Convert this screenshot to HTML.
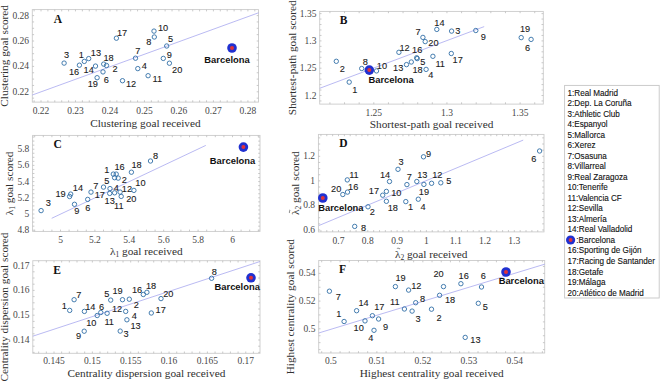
<!DOCTYPE html>
<html><head><meta charset="utf-8"><style>
html,body{margin:0;padding:0;background:#fff;width:660px;height:382px;overflow:hidden}
svg{display:block}
</style></head><body>
<svg width="660" height="382" viewBox="0 0 660 382">
<rect width="660" height="382" fill="#fff"/>
<g>
<rect x="32.3" y="9.6" width="226.20" height="92.50" fill="none" stroke="#cbcbcb" stroke-width="0.9"/>
<path d="M34.10 102.1v-1.8M34.10 9.6v1.8M41.00 102.1v-1.8M41.00 9.6v1.8M47.90 102.1v-1.8M47.90 9.6v1.8M54.79 102.1v-1.8M54.79 9.6v1.8M61.69 102.1v-1.8M61.69 9.6v1.8M68.59 102.1v-1.8M68.59 9.6v1.8M75.48 102.1v-1.8M75.48 9.6v1.8M82.38 102.1v-1.8M82.38 9.6v1.8M89.28 102.1v-1.8M89.28 9.6v1.8M96.17 102.1v-1.8M96.17 9.6v1.8M103.07 102.1v-1.8M103.07 9.6v1.8M109.97 102.1v-1.8M109.97 9.6v1.8M116.86 102.1v-1.8M116.86 9.6v1.8M123.76 102.1v-1.8M123.76 9.6v1.8M130.66 102.1v-1.8M130.66 9.6v1.8M137.55 102.1v-1.8M137.55 9.6v1.8M144.45 102.1v-1.8M144.45 9.6v1.8M151.35 102.1v-1.8M151.35 9.6v1.8M158.24 102.1v-1.8M158.24 9.6v1.8M165.14 102.1v-1.8M165.14 9.6v1.8M172.04 102.1v-1.8M172.04 9.6v1.8M178.93 102.1v-1.8M178.93 9.6v1.8M185.83 102.1v-1.8M185.83 9.6v1.8M192.73 102.1v-1.8M192.73 9.6v1.8M199.62 102.1v-1.8M199.62 9.6v1.8M206.52 102.1v-1.8M206.52 9.6v1.8M213.42 102.1v-1.8M213.42 9.6v1.8M220.31 102.1v-1.8M220.31 9.6v1.8M227.21 102.1v-1.8M227.21 9.6v1.8M234.11 102.1v-1.8M234.11 9.6v1.8M241.00 102.1v-1.8M241.00 9.6v1.8M247.90 102.1v-1.8M247.90 9.6v1.8M254.80 102.1v-1.8M254.80 9.6v1.8M32.3 98.15h1.8M258.5 98.15h-1.8M32.3 91.80h1.8M258.5 91.80h-1.8M32.3 85.45h1.8M258.5 85.45h-1.8M32.3 79.10h1.8M258.5 79.10h-1.8M32.3 72.75h1.8M258.5 72.75h-1.8M32.3 66.40h1.8M258.5 66.40h-1.8M32.3 60.05h1.8M258.5 60.05h-1.8M32.3 53.70h1.8M258.5 53.70h-1.8M32.3 47.35h1.8M258.5 47.35h-1.8M32.3 41.00h1.8M258.5 41.00h-1.8M32.3 34.65h1.8M258.5 34.65h-1.8M32.3 28.30h1.8M258.5 28.30h-1.8M32.3 21.95h1.8M258.5 21.95h-1.8M32.3 15.60h1.8M258.5 15.60h-1.8" stroke="#bdbdbd" stroke-width="0.8" fill="none"/>
<text x="41.00" y="113.8" font-family="&quot;Liberation Serif&quot;, serif" font-size="9.5" fill="#474747" text-anchor="middle">0.22</text>
<text x="75.48" y="113.8" font-family="&quot;Liberation Serif&quot;, serif" font-size="9.5" fill="#474747" text-anchor="middle">0.23</text>
<text x="109.97" y="113.8" font-family="&quot;Liberation Serif&quot;, serif" font-size="9.5" fill="#474747" text-anchor="middle">0.24</text>
<text x="144.45" y="113.8" font-family="&quot;Liberation Serif&quot;, serif" font-size="9.5" fill="#474747" text-anchor="middle">0.25</text>
<text x="178.93" y="113.8" font-family="&quot;Liberation Serif&quot;, serif" font-size="9.5" fill="#474747" text-anchor="middle">0.26</text>
<text x="213.42" y="113.8" font-family="&quot;Liberation Serif&quot;, serif" font-size="9.5" fill="#474747" text-anchor="middle">0.27</text>
<text x="247.90" y="113.8" font-family="&quot;Liberation Serif&quot;, serif" font-size="9.5" fill="#474747" text-anchor="middle">0.28</text>
<text x="29.00" y="94.80" font-family="&quot;Liberation Serif&quot;, serif" font-size="9.5" fill="#474747" text-anchor="end">0.22</text>
<text x="29.00" y="69.40" font-family="&quot;Liberation Serif&quot;, serif" font-size="9.5" fill="#474747" text-anchor="end">0.24</text>
<text x="29.00" y="44.00" font-family="&quot;Liberation Serif&quot;, serif" font-size="9.5" fill="#474747" text-anchor="end">0.26</text>
<text x="29.00" y="18.60" font-family="&quot;Liberation Serif&quot;, serif" font-size="9.5" fill="#474747" text-anchor="end">0.28</text>
<g transform="translate(145.40 127.0)"><text x="0" y="0" font-family="&quot;Liberation Serif&quot;, serif" font-size="11.3" fill="#303030" text-anchor="middle">Clustering goal received</text></g>
<g transform="translate(8.4 55.85) rotate(-90)"><text x="0" y="0" font-family="&quot;Liberation Serif&quot;, serif" font-size="11.3" fill="#303030" text-anchor="middle">Clustering goal scored</text></g>
<text x="58" y="22.70" font-family="&quot;Liberation Serif&quot;, serif" font-weight="bold" font-size="11.5" fill="#111" text-anchor="middle">A</text>
<line x1="32.3" y1="95.0" x2="258.5" y2="12.8" stroke="#9c9cec" stroke-width="0.7"/>
<circle cx="64.1" cy="63.1" r="2.2" fill="none" stroke="#306ea6" stroke-width="0.9"/>
<circle cx="79.4" cy="65.2" r="2.2" fill="none" stroke="#306ea6" stroke-width="0.9"/>
<circle cx="84.3" cy="61.4" r="2.2" fill="none" stroke="#306ea6" stroke-width="0.9"/>
<circle cx="88.7" cy="58.6" r="2.2" fill="none" stroke="#306ea6" stroke-width="0.9"/>
<circle cx="95.5" cy="66.1" r="2.2" fill="none" stroke="#306ea6" stroke-width="0.9"/>
<circle cx="103.7" cy="64.1" r="2.2" fill="none" stroke="#306ea6" stroke-width="0.9"/>
<circle cx="106.5" cy="65.5" r="2.2" fill="none" stroke="#306ea6" stroke-width="0.9"/>
<circle cx="103.0" cy="71.9" r="2.2" fill="none" stroke="#306ea6" stroke-width="0.9"/>
<circle cx="97.1" cy="77.7" r="2.2" fill="none" stroke="#306ea6" stroke-width="0.9"/>
<circle cx="116.4" cy="38.2" r="2.2" fill="none" stroke="#306ea6" stroke-width="0.9"/>
<circle cx="122.5" cy="80.7" r="2.2" fill="none" stroke="#306ea6" stroke-width="0.9"/>
<circle cx="135.5" cy="58.2" r="2.2" fill="none" stroke="#306ea6" stroke-width="0.9"/>
<circle cx="137.8" cy="68.6" r="2.2" fill="none" stroke="#306ea6" stroke-width="0.9"/>
<circle cx="154.0" cy="31.1" r="2.2" fill="none" stroke="#306ea6" stroke-width="0.9"/>
<circle cx="154.3" cy="37.0" r="2.2" fill="none" stroke="#306ea6" stroke-width="0.9"/>
<circle cx="166.7" cy="46.0" r="2.2" fill="none" stroke="#306ea6" stroke-width="0.9"/>
<circle cx="163.3" cy="58.4" r="2.2" fill="none" stroke="#306ea6" stroke-width="0.9"/>
<circle cx="169.4" cy="63.2" r="2.2" fill="none" stroke="#306ea6" stroke-width="0.9"/>
<circle cx="148.1" cy="75.7" r="2.2" fill="none" stroke="#306ea6" stroke-width="0.9"/>
<text transform="translate(66.5 58.34) scale(0.97 1)" font-family="&quot;Liberation Sans&quot;, sans-serif" font-size="9.5" fill="#1a1a1a" stroke="#1a1a1a" stroke-width="0.1" text-anchor="middle">3</text>
<text transform="translate(74.0 75.44) scale(0.97 1)" font-family="&quot;Liberation Sans&quot;, sans-serif" font-size="9.5" fill="#1a1a1a" stroke="#1a1a1a" stroke-width="0.1" text-anchor="middle">16</text>
<text transform="translate(81.2 57.63) scale(0.97 1)" font-family="&quot;Liberation Sans&quot;, sans-serif" font-size="9.5" fill="#1a1a1a" stroke="#1a1a1a" stroke-width="0.1" text-anchor="middle">1</text>
<text transform="translate(95.9 55.93) scale(0.97 1)" font-family="&quot;Liberation Sans&quot;, sans-serif" font-size="9.5" fill="#1a1a1a" stroke="#1a1a1a" stroke-width="0.1" text-anchor="middle">13</text>
<text transform="translate(88.7 73.34) scale(0.97 1)" font-family="&quot;Liberation Sans&quot;, sans-serif" font-size="9.5" fill="#1a1a1a" stroke="#1a1a1a" stroke-width="0.1" text-anchor="middle">14</text>
<text transform="translate(108.5 61.13) scale(0.97 1)" font-family="&quot;Liberation Sans&quot;, sans-serif" font-size="9.5" fill="#1a1a1a" stroke="#1a1a1a" stroke-width="0.1" text-anchor="middle">18</text>
<text transform="translate(115.0 72.44) scale(0.97 1)" font-family="&quot;Liberation Sans&quot;, sans-serif" font-size="9.5" fill="#1a1a1a" stroke="#1a1a1a" stroke-width="0.1" text-anchor="middle">2</text>
<text transform="translate(106.4 82.64) scale(0.97 1)" font-family="&quot;Liberation Sans&quot;, sans-serif" font-size="9.5" fill="#1a1a1a" stroke="#1a1a1a" stroke-width="0.1" text-anchor="middle">6</text>
<text transform="translate(92.8 86.73) scale(0.97 1)" font-family="&quot;Liberation Sans&quot;, sans-serif" font-size="9.5" fill="#1a1a1a" stroke="#1a1a1a" stroke-width="0.1" text-anchor="middle">19</text>
<text transform="translate(122.1 35.84) scale(0.97 1)" font-family="&quot;Liberation Sans&quot;, sans-serif" font-size="9.5" fill="#1a1a1a" stroke="#1a1a1a" stroke-width="0.1" text-anchor="middle">17</text>
<text transform="translate(131.0 87.23) scale(0.97 1)" font-family="&quot;Liberation Sans&quot;, sans-serif" font-size="9.5" fill="#1a1a1a" stroke="#1a1a1a" stroke-width="0.1" text-anchor="middle">12</text>
<text transform="translate(137.8 53.63) scale(0.97 1)" font-family="&quot;Liberation Sans&quot;, sans-serif" font-size="9.5" fill="#1a1a1a" stroke="#1a1a1a" stroke-width="0.1" text-anchor="middle">7</text>
<text transform="translate(144.3 69.04) scale(0.97 1)" font-family="&quot;Liberation Sans&quot;, sans-serif" font-size="9.5" fill="#1a1a1a" stroke="#1a1a1a" stroke-width="0.1" text-anchor="middle">4</text>
<text transform="translate(163.0 31.04) scale(0.97 1)" font-family="&quot;Liberation Sans&quot;, sans-serif" font-size="9.5" fill="#1a1a1a" stroke="#1a1a1a" stroke-width="0.1" text-anchor="middle">10</text>
<text transform="translate(148.7 45.13) scale(0.97 1)" font-family="&quot;Liberation Sans&quot;, sans-serif" font-size="9.5" fill="#1a1a1a" stroke="#1a1a1a" stroke-width="0.1" text-anchor="middle">8</text>
<text transform="translate(170.5 41.93) scale(0.97 1)" font-family="&quot;Liberation Sans&quot;, sans-serif" font-size="9.5" fill="#1a1a1a" stroke="#1a1a1a" stroke-width="0.1" text-anchor="middle">5</text>
<text transform="translate(169.4 58.34) scale(0.97 1)" font-family="&quot;Liberation Sans&quot;, sans-serif" font-size="9.5" fill="#1a1a1a" stroke="#1a1a1a" stroke-width="0.1" text-anchor="middle">9</text>
<text transform="translate(177.2 72.54) scale(0.97 1)" font-family="&quot;Liberation Sans&quot;, sans-serif" font-size="9.5" fill="#1a1a1a" stroke="#1a1a1a" stroke-width="0.1" text-anchor="middle">20</text>
<text transform="translate(157.3 82.23) scale(0.97 1)" font-family="&quot;Liberation Sans&quot;, sans-serif" font-size="9.5" fill="#1a1a1a" stroke="#1a1a1a" stroke-width="0.1" text-anchor="middle">11</text>
<circle cx="232.0" cy="48.0" r="4.8" fill="#2030d0"/><circle cx="232.0" cy="48.0" r="2.0" fill="#e0333a"/>
<text x="227.0" y="63.40" font-family="&quot;Liberation Sans&quot;, sans-serif" font-weight="bold" font-size="9.4" fill="#111" text-anchor="middle">Barcelona</text>
<rect x="319.7" y="11.4" width="223.60" height="92.70" fill="none" stroke="#cbcbcb" stroke-width="0.9"/>
<path d="M329.91 104.1v-1.8M329.91 11.4v1.8M344.54 104.1v-1.8M344.54 11.4v1.8M359.17 104.1v-1.8M359.17 11.4v1.8M373.80 104.1v-1.8M373.80 11.4v1.8M388.43 104.1v-1.8M388.43 11.4v1.8M403.06 104.1v-1.8M403.06 11.4v1.8M417.69 104.1v-1.8M417.69 11.4v1.8M432.32 104.1v-1.8M432.32 11.4v1.8M446.95 104.1v-1.8M446.95 11.4v1.8M461.58 104.1v-1.8M461.58 11.4v1.8M476.21 104.1v-1.8M476.21 11.4v1.8M490.84 104.1v-1.8M490.84 11.4v1.8M505.47 104.1v-1.8M505.47 11.4v1.8M520.10 104.1v-1.8M520.10 11.4v1.8M534.73 104.1v-1.8M534.73 11.4v1.8M319.7 100.96h1.8M543.3 100.96h-1.8M319.7 95.50h1.8M543.3 95.50h-1.8M319.7 90.04h1.8M543.3 90.04h-1.8M319.7 84.58h1.8M543.3 84.58h-1.8M319.7 79.12h1.8M543.3 79.12h-1.8M319.7 73.66h1.8M543.3 73.66h-1.8M319.7 68.20h1.8M543.3 68.20h-1.8M319.7 62.74h1.8M543.3 62.74h-1.8M319.7 57.28h1.8M543.3 57.28h-1.8M319.7 51.82h1.8M543.3 51.82h-1.8M319.7 46.36h1.8M543.3 46.36h-1.8M319.7 40.90h1.8M543.3 40.90h-1.8M319.7 35.44h1.8M543.3 35.44h-1.8M319.7 29.98h1.8M543.3 29.98h-1.8M319.7 24.52h1.8M543.3 24.52h-1.8M319.7 19.06h1.8M543.3 19.06h-1.8M319.7 13.60h1.8M543.3 13.60h-1.8" stroke="#bdbdbd" stroke-width="0.8" fill="none"/>
<text x="373.80" y="115.5" font-family="&quot;Liberation Serif&quot;, serif" font-size="9.5" fill="#474747" text-anchor="middle">1.25</text>
<text x="446.95" y="115.5" font-family="&quot;Liberation Serif&quot;, serif" font-size="9.5" fill="#474747" text-anchor="middle">1.3</text>
<text x="520.10" y="115.5" font-family="&quot;Liberation Serif&quot;, serif" font-size="9.5" fill="#474747" text-anchor="middle">1.35</text>
<text x="316.40" y="98.50" font-family="&quot;Liberation Serif&quot;, serif" font-size="9.5" fill="#474747" text-anchor="end">1.2</text>
<text x="316.40" y="71.20" font-family="&quot;Liberation Serif&quot;, serif" font-size="9.5" fill="#474747" text-anchor="end">1.25</text>
<text x="316.40" y="43.90" font-family="&quot;Liberation Serif&quot;, serif" font-size="9.5" fill="#474747" text-anchor="end">1.3</text>
<text x="316.40" y="16.60" font-family="&quot;Liberation Serif&quot;, serif" font-size="9.5" fill="#474747" text-anchor="end">1.35</text>
<g transform="translate(431.50 128.0)"><text x="0" y="0" font-family="&quot;Liberation Serif&quot;, serif" font-size="11.3" fill="#303030" text-anchor="middle">Shortest-path goal received</text></g>
<g transform="translate(296.0 57.75) rotate(-90)"><text x="0" y="0" font-family="&quot;Liberation Serif&quot;, serif" font-size="11.3" fill="#303030" text-anchor="middle">Shortest-path goal scored</text></g>
<text x="343.7" y="24.20" font-family="&quot;Liberation Serif&quot;, serif" font-weight="bold" font-size="11.5" fill="#111" text-anchor="middle">B</text>
<line x1="319.7" y1="88.3" x2="484.2" y2="26.6" stroke="#9c9cec" stroke-width="0.7"/>
<circle cx="336.3" cy="61.3" r="2.2" fill="none" stroke="#306ea6" stroke-width="0.9"/>
<circle cx="349.2" cy="82.1" r="2.2" fill="none" stroke="#306ea6" stroke-width="0.9"/>
<circle cx="361.7" cy="68.5" r="2.2" fill="none" stroke="#306ea6" stroke-width="0.9"/>
<circle cx="376.5" cy="70.9" r="2.2" fill="none" stroke="#306ea6" stroke-width="0.9"/>
<circle cx="398.9" cy="52.3" r="2.2" fill="none" stroke="#306ea6" stroke-width="0.9"/>
<circle cx="406.5" cy="64.6" r="2.2" fill="none" stroke="#306ea6" stroke-width="0.9"/>
<circle cx="411.3" cy="62.0" r="2.2" fill="none" stroke="#306ea6" stroke-width="0.9"/>
<circle cx="416.7" cy="57.8" r="2.2" fill="none" stroke="#306ea6" stroke-width="0.9"/>
<circle cx="417.2" cy="58.6" r="2.2" fill="none" stroke="#306ea6" stroke-width="0.9"/>
<circle cx="426.1" cy="69.4" r="2.2" fill="none" stroke="#306ea6" stroke-width="0.9"/>
<circle cx="432.9" cy="56.3" r="2.2" fill="none" stroke="#306ea6" stroke-width="0.9"/>
<circle cx="451.3" cy="53.5" r="2.2" fill="none" stroke="#306ea6" stroke-width="0.9"/>
<circle cx="422.9" cy="37.4" r="2.2" fill="none" stroke="#306ea6" stroke-width="0.9"/>
<circle cx="425.2" cy="41.6" r="2.2" fill="none" stroke="#306ea6" stroke-width="0.9"/>
<circle cx="436.8" cy="29.4" r="2.2" fill="none" stroke="#306ea6" stroke-width="0.9"/>
<circle cx="451.6" cy="31.1" r="2.2" fill="none" stroke="#306ea6" stroke-width="0.9"/>
<circle cx="475.8" cy="30.5" r="2.2" fill="none" stroke="#306ea6" stroke-width="0.9"/>
<circle cx="521.2" cy="37.6" r="2.2" fill="none" stroke="#306ea6" stroke-width="0.9"/>
<circle cx="531.1" cy="39.4" r="2.2" fill="none" stroke="#306ea6" stroke-width="0.9"/>
<text transform="translate(342.3 71.84) scale(0.97 1)" font-family="&quot;Liberation Sans&quot;, sans-serif" font-size="9.5" fill="#1a1a1a" stroke="#1a1a1a" stroke-width="0.1" text-anchor="middle">2</text>
<text transform="translate(354.8 92.73) scale(0.97 1)" font-family="&quot;Liberation Sans&quot;, sans-serif" font-size="9.5" fill="#1a1a1a" stroke="#1a1a1a" stroke-width="0.1" text-anchor="middle">1</text>
<text transform="translate(365.3 65.14) scale(0.97 1)" font-family="&quot;Liberation Sans&quot;, sans-serif" font-size="9.5" fill="#1a1a1a" stroke="#1a1a1a" stroke-width="0.1" text-anchor="middle">8</text>
<text transform="translate(381.9 68.73) scale(0.97 1)" font-family="&quot;Liberation Sans&quot;, sans-serif" font-size="9.5" fill="#1a1a1a" stroke="#1a1a1a" stroke-width="0.1" text-anchor="middle">10</text>
<text transform="translate(404.5 50.73) scale(0.97 1)" font-family="&quot;Liberation Sans&quot;, sans-serif" font-size="9.5" fill="#1a1a1a" stroke="#1a1a1a" stroke-width="0.1" text-anchor="middle">12</text>
<text transform="translate(398.2 71.14) scale(0.97 1)" font-family="&quot;Liberation Sans&quot;, sans-serif" font-size="9.5" fill="#1a1a1a" stroke="#1a1a1a" stroke-width="0.1" text-anchor="middle">13</text>
<text transform="translate(417.6 72.84) scale(0.97 1)" font-family="&quot;Liberation Sans&quot;, sans-serif" font-size="9.5" fill="#1a1a1a" stroke="#1a1a1a" stroke-width="0.1" text-anchor="middle">18</text>
<text transform="translate(417.2 52.93) scale(0.97 1)" font-family="&quot;Liberation Sans&quot;, sans-serif" font-size="9.5" fill="#1a1a1a" stroke="#1a1a1a" stroke-width="0.1" text-anchor="middle">16</text>
<text transform="translate(422.7 65.34) scale(0.97 1)" font-family="&quot;Liberation Sans&quot;, sans-serif" font-size="9.5" fill="#1a1a1a" stroke="#1a1a1a" stroke-width="0.1" text-anchor="middle">5</text>
<text transform="translate(430.9 78.44) scale(0.97 1)" font-family="&quot;Liberation Sans&quot;, sans-serif" font-size="9.5" fill="#1a1a1a" stroke="#1a1a1a" stroke-width="0.1" text-anchor="middle">4</text>
<text transform="translate(440.2 67.03) scale(0.97 1)" font-family="&quot;Liberation Sans&quot;, sans-serif" font-size="9.5" fill="#1a1a1a" stroke="#1a1a1a" stroke-width="0.1" text-anchor="middle">11</text>
<text transform="translate(457.7 63.13) scale(0.97 1)" font-family="&quot;Liberation Sans&quot;, sans-serif" font-size="9.5" fill="#1a1a1a" stroke="#1a1a1a" stroke-width="0.1" text-anchor="middle">17</text>
<text transform="translate(418.1 34.73) scale(0.97 1)" font-family="&quot;Liberation Sans&quot;, sans-serif" font-size="9.5" fill="#1a1a1a" stroke="#1a1a1a" stroke-width="0.1" text-anchor="middle">7</text>
<text transform="translate(433.4 45.63) scale(0.97 1)" font-family="&quot;Liberation Sans&quot;, sans-serif" font-size="9.5" fill="#1a1a1a" stroke="#1a1a1a" stroke-width="0.1" text-anchor="middle">20</text>
<text transform="translate(439.4 26.24) scale(0.97 1)" font-family="&quot;Liberation Sans&quot;, sans-serif" font-size="9.5" fill="#1a1a1a" stroke="#1a1a1a" stroke-width="0.1" text-anchor="middle">14</text>
<text transform="translate(457.7 33.73) scale(0.97 1)" font-family="&quot;Liberation Sans&quot;, sans-serif" font-size="9.5" fill="#1a1a1a" stroke="#1a1a1a" stroke-width="0.1" text-anchor="middle">3</text>
<text transform="translate(483.2 40.43) scale(0.97 1)" font-family="&quot;Liberation Sans&quot;, sans-serif" font-size="9.5" fill="#1a1a1a" stroke="#1a1a1a" stroke-width="0.1" text-anchor="middle">9</text>
<text transform="translate(525.1 32.13) scale(0.97 1)" font-family="&quot;Liberation Sans&quot;, sans-serif" font-size="9.5" fill="#1a1a1a" stroke="#1a1a1a" stroke-width="0.1" text-anchor="middle">19</text>
<text transform="translate(527.5 50.93) scale(0.97 1)" font-family="&quot;Liberation Sans&quot;, sans-serif" font-size="9.5" fill="#1a1a1a" stroke="#1a1a1a" stroke-width="0.1" text-anchor="middle">6</text>
<circle cx="369.3" cy="70.1" r="4.8" fill="#2030d0"/><circle cx="369.3" cy="70.1" r="2.0" fill="#e0333a"/>
<text x="391.1" y="82.70" font-family="&quot;Liberation Sans&quot;, sans-serif" font-weight="bold" font-size="9.4" fill="#111" text-anchor="middle">Barcelona</text>
<rect x="32.6" y="135.4" width="227.40" height="96.00" fill="none" stroke="#cbcbcb" stroke-width="0.9"/>
<path d="M34.70 231.4v-1.8M34.70 135.4v1.8M43.30 231.4v-1.8M43.30 135.4v1.8M51.90 231.4v-1.8M51.90 135.4v1.8M60.50 231.4v-1.8M60.50 135.4v1.8M69.10 231.4v-1.8M69.10 135.4v1.8M77.70 231.4v-1.8M77.70 135.4v1.8M86.30 231.4v-1.8M86.30 135.4v1.8M94.90 231.4v-1.8M94.90 135.4v1.8M103.50 231.4v-1.8M103.50 135.4v1.8M112.10 231.4v-1.8M112.10 135.4v1.8M120.70 231.4v-1.8M120.70 135.4v1.8M129.30 231.4v-1.8M129.30 135.4v1.8M137.90 231.4v-1.8M137.90 135.4v1.8M146.50 231.4v-1.8M146.50 135.4v1.8M155.10 231.4v-1.8M155.10 135.4v1.8M163.70 231.4v-1.8M163.70 135.4v1.8M172.30 231.4v-1.8M172.30 135.4v1.8M180.90 231.4v-1.8M180.90 135.4v1.8M189.50 231.4v-1.8M189.50 135.4v1.8M198.10 231.4v-1.8M198.10 135.4v1.8M206.70 231.4v-1.8M206.70 135.4v1.8M215.30 231.4v-1.8M215.30 135.4v1.8M223.90 231.4v-1.8M223.90 135.4v1.8M232.50 231.4v-1.8M232.50 135.4v1.8M241.10 231.4v-1.8M241.10 135.4v1.8M249.70 231.4v-1.8M249.70 135.4v1.8M258.30 231.4v-1.8M258.30 135.4v1.8M32.6 230.20h1.8M260.0 230.20h-1.8M32.6 226.15h1.8M260.0 226.15h-1.8M32.6 222.10h1.8M260.0 222.10h-1.8M32.6 218.05h1.8M260.0 218.05h-1.8M32.6 214.00h1.8M260.0 214.00h-1.8M32.6 209.95h1.8M260.0 209.95h-1.8M32.6 205.90h1.8M260.0 205.90h-1.8M32.6 201.85h1.8M260.0 201.85h-1.8M32.6 197.80h1.8M260.0 197.80h-1.8M32.6 193.75h1.8M260.0 193.75h-1.8M32.6 189.70h1.8M260.0 189.70h-1.8M32.6 185.65h1.8M260.0 185.65h-1.8M32.6 181.60h1.8M260.0 181.60h-1.8M32.6 177.55h1.8M260.0 177.55h-1.8M32.6 173.50h1.8M260.0 173.50h-1.8M32.6 169.45h1.8M260.0 169.45h-1.8M32.6 165.40h1.8M260.0 165.40h-1.8M32.6 161.35h1.8M260.0 161.35h-1.8M32.6 157.30h1.8M260.0 157.30h-1.8M32.6 153.25h1.8M260.0 153.25h-1.8M32.6 149.20h1.8M260.0 149.20h-1.8M32.6 145.15h1.8M260.0 145.15h-1.8M32.6 141.10h1.8M260.0 141.10h-1.8M32.6 137.05h1.8M260.0 137.05h-1.8" stroke="#bdbdbd" stroke-width="0.8" fill="none"/>
<text x="60.50" y="242.8" font-family="&quot;Liberation Serif&quot;, serif" font-size="9.5" fill="#474747" text-anchor="middle">5</text>
<text x="94.90" y="242.8" font-family="&quot;Liberation Serif&quot;, serif" font-size="9.5" fill="#474747" text-anchor="middle">5.2</text>
<text x="129.30" y="242.8" font-family="&quot;Liberation Serif&quot;, serif" font-size="9.5" fill="#474747" text-anchor="middle">5.4</text>
<text x="163.70" y="242.8" font-family="&quot;Liberation Serif&quot;, serif" font-size="9.5" fill="#474747" text-anchor="middle">5.6</text>
<text x="198.10" y="242.8" font-family="&quot;Liberation Serif&quot;, serif" font-size="9.5" fill="#474747" text-anchor="middle">5.8</text>
<text x="232.50" y="242.8" font-family="&quot;Liberation Serif&quot;, serif" font-size="9.5" fill="#474747" text-anchor="middle">6</text>
<text x="29.30" y="233.20" font-family="&quot;Liberation Serif&quot;, serif" font-size="9.5" fill="#474747" text-anchor="end">4.8</text>
<text x="29.30" y="217.00" font-family="&quot;Liberation Serif&quot;, serif" font-size="9.5" fill="#474747" text-anchor="end">5</text>
<text x="29.30" y="200.80" font-family="&quot;Liberation Serif&quot;, serif" font-size="9.5" fill="#474747" text-anchor="end">5.2</text>
<text x="29.30" y="184.60" font-family="&quot;Liberation Serif&quot;, serif" font-size="9.5" fill="#474747" text-anchor="end">5.4</text>
<text x="29.30" y="168.40" font-family="&quot;Liberation Serif&quot;, serif" font-size="9.5" fill="#474747" text-anchor="end">5.6</text>
<text x="29.30" y="152.20" font-family="&quot;Liberation Serif&quot;, serif" font-size="9.5" fill="#474747" text-anchor="end">5.8</text>
<g transform="translate(146.30 255.0)"><text x="0" y="0" font-family="&quot;Liberation Serif&quot;, serif" font-size="11.3" fill="#303030" text-anchor="middle">λ<tspan font-size="7.5" dy="2">1</tspan><tspan dy="-2"> goal received</tspan></text></g>
<g transform="translate(12.5 183.40) rotate(-90)"><text x="0" y="0" font-family="&quot;Liberation Serif&quot;, serif" font-size="11.3" fill="#303030" text-anchor="middle">λ<tspan font-size="7.5" dy="2">1</tspan><tspan dy="-2"> goal scored</tspan></text></g>
<text x="57.7" y="148.00" font-family="&quot;Liberation Serif&quot;, serif" font-weight="bold" font-size="11.5" fill="#111" text-anchor="middle">C</text>
<line x1="51.7" y1="218.3" x2="205.8" y2="145.4" stroke="#9c9cec" stroke-width="0.7"/>
<circle cx="41.1" cy="210.6" r="2.2" fill="none" stroke="#306ea6" stroke-width="0.9"/>
<circle cx="69.6" cy="196.5" r="2.2" fill="none" stroke="#306ea6" stroke-width="0.9"/>
<circle cx="70.7" cy="194.1" r="2.2" fill="none" stroke="#306ea6" stroke-width="0.9"/>
<circle cx="74.5" cy="204.3" r="2.2" fill="none" stroke="#306ea6" stroke-width="0.9"/>
<circle cx="87.7" cy="199.4" r="2.2" fill="none" stroke="#306ea6" stroke-width="0.9"/>
<circle cx="91.0" cy="192.1" r="2.2" fill="none" stroke="#306ea6" stroke-width="0.9"/>
<circle cx="103.5" cy="187.1" r="2.2" fill="none" stroke="#306ea6" stroke-width="0.9"/>
<circle cx="113.3" cy="174.1" r="2.2" fill="none" stroke="#306ea6" stroke-width="0.9"/>
<circle cx="116.2" cy="174.1" r="2.2" fill="none" stroke="#306ea6" stroke-width="0.9"/>
<circle cx="114.6" cy="177.7" r="2.2" fill="none" stroke="#306ea6" stroke-width="0.9"/>
<circle cx="118.2" cy="178.1" r="2.2" fill="none" stroke="#306ea6" stroke-width="0.9"/>
<circle cx="110.0" cy="188.6" r="2.2" fill="none" stroke="#306ea6" stroke-width="0.9"/>
<circle cx="109.7" cy="193.4" r="2.2" fill="none" stroke="#306ea6" stroke-width="0.9"/>
<circle cx="114.6" cy="192.8" r="2.2" fill="none" stroke="#306ea6" stroke-width="0.9"/>
<circle cx="120.1" cy="192.1" r="2.2" fill="none" stroke="#306ea6" stroke-width="0.9"/>
<circle cx="121.2" cy="196.4" r="2.2" fill="none" stroke="#306ea6" stroke-width="0.9"/>
<circle cx="133.9" cy="190.4" r="2.2" fill="none" stroke="#306ea6" stroke-width="0.9"/>
<circle cx="131.4" cy="172.2" r="2.2" fill="none" stroke="#306ea6" stroke-width="0.9"/>
<circle cx="150.5" cy="161.0" r="2.2" fill="none" stroke="#306ea6" stroke-width="0.9"/>
<text transform="translate(48.3 205.94) scale(0.97 1)" font-family="&quot;Liberation Sans&quot;, sans-serif" font-size="9.5" fill="#1a1a1a" stroke="#1a1a1a" stroke-width="0.1" text-anchor="middle">3</text>
<text transform="translate(60.5 197.03) scale(0.97 1)" font-family="&quot;Liberation Sans&quot;, sans-serif" font-size="9.5" fill="#1a1a1a" stroke="#1a1a1a" stroke-width="0.1" text-anchor="middle">19</text>
<text transform="translate(77.9 190.53) scale(0.97 1)" font-family="&quot;Liberation Sans&quot;, sans-serif" font-size="9.5" fill="#1a1a1a" stroke="#1a1a1a" stroke-width="0.1" text-anchor="middle">14</text>
<text transform="translate(76.7 213.94) scale(0.97 1)" font-family="&quot;Liberation Sans&quot;, sans-serif" font-size="9.5" fill="#1a1a1a" stroke="#1a1a1a" stroke-width="0.1" text-anchor="middle">9</text>
<text transform="translate(87.9 210.83) scale(0.97 1)" font-family="&quot;Liberation Sans&quot;, sans-serif" font-size="9.5" fill="#1a1a1a" stroke="#1a1a1a" stroke-width="0.1" text-anchor="middle">6</text>
<text transform="translate(99.8 197.83) scale(0.97 1)" font-family="&quot;Liberation Sans&quot;, sans-serif" font-size="9.5" fill="#1a1a1a" stroke="#1a1a1a" stroke-width="0.1" text-anchor="middle">17</text>
<text transform="translate(95.9 188.63) scale(0.97 1)" font-family="&quot;Liberation Sans&quot;, sans-serif" font-size="9.5" fill="#1a1a1a" stroke="#1a1a1a" stroke-width="0.1" text-anchor="middle">7</text>
<text transform="translate(106.8 172.53) scale(0.97 1)" font-family="&quot;Liberation Sans&quot;, sans-serif" font-size="9.5" fill="#1a1a1a" stroke="#1a1a1a" stroke-width="0.1" text-anchor="middle">1</text>
<text transform="translate(119.5 170.33) scale(0.97 1)" font-family="&quot;Liberation Sans&quot;, sans-serif" font-size="9.5" fill="#1a1a1a" stroke="#1a1a1a" stroke-width="0.1" text-anchor="middle">16</text>
<text transform="translate(106.8 183.83) scale(0.97 1)" font-family="&quot;Liberation Sans&quot;, sans-serif" font-size="9.5" fill="#1a1a1a" stroke="#1a1a1a" stroke-width="0.1" text-anchor="middle">5</text>
<text transform="translate(124.3 182.53) scale(0.97 1)" font-family="&quot;Liberation Sans&quot;, sans-serif" font-size="9.5" fill="#1a1a1a" stroke="#1a1a1a" stroke-width="0.1" text-anchor="middle">2</text>
<text transform="translate(116.2 190.63) scale(0.97 1)" font-family="&quot;Liberation Sans&quot;, sans-serif" font-size="9.5" fill="#1a1a1a" stroke="#1a1a1a" stroke-width="0.1" text-anchor="middle">4</text>
<text transform="translate(109.7 203.73) scale(0.97 1)" font-family="&quot;Liberation Sans&quot;, sans-serif" font-size="9.5" fill="#1a1a1a" stroke="#1a1a1a" stroke-width="0.1" text-anchor="middle">13</text>
<text transform="translate(118.8 208.73) scale(0.97 1)" font-family="&quot;Liberation Sans&quot;, sans-serif" font-size="9.5" fill="#1a1a1a" stroke="#1a1a1a" stroke-width="0.1" text-anchor="middle">11</text>
<text transform="translate(126.9 192.23) scale(0.97 1)" font-family="&quot;Liberation Sans&quot;, sans-serif" font-size="9.5" fill="#1a1a1a" stroke="#1a1a1a" stroke-width="0.1" text-anchor="middle">12</text>
<text transform="translate(131.3 201.73) scale(0.97 1)" font-family="&quot;Liberation Sans&quot;, sans-serif" font-size="9.5" fill="#1a1a1a" stroke="#1a1a1a" stroke-width="0.1" text-anchor="middle">20</text>
<text transform="translate(140.4 186.44) scale(0.97 1)" font-family="&quot;Liberation Sans&quot;, sans-serif" font-size="9.5" fill="#1a1a1a" stroke="#1a1a1a" stroke-width="0.1" text-anchor="middle">10</text>
<text transform="translate(136.5 167.73) scale(0.97 1)" font-family="&quot;Liberation Sans&quot;, sans-serif" font-size="9.5" fill="#1a1a1a" stroke="#1a1a1a" stroke-width="0.1" text-anchor="middle">18</text>
<text transform="translate(155.5 159.44) scale(0.97 1)" font-family="&quot;Liberation Sans&quot;, sans-serif" font-size="9.5" fill="#1a1a1a" stroke="#1a1a1a" stroke-width="0.1" text-anchor="middle">8</text>
<circle cx="243.4" cy="147.1" r="4.8" fill="#2030d0"/><circle cx="243.4" cy="147.1" r="2.0" fill="#e0333a"/>
<text x="232.5" y="164.40" font-family="&quot;Liberation Sans&quot;, sans-serif" font-weight="bold" font-size="9.4" fill="#111" text-anchor="middle">Barcelona</text>
<rect x="318.4" y="134.4" width="225.60" height="97.50" fill="none" stroke="#cbcbcb" stroke-width="0.9"/>
<path d="M320.92 231.9v-1.8M320.92 134.4v1.8M326.78 231.9v-1.8M326.78 134.4v1.8M332.64 231.9v-1.8M332.64 134.4v1.8M338.50 231.9v-1.8M338.50 134.4v1.8M344.36 231.9v-1.8M344.36 134.4v1.8M350.22 231.9v-1.8M350.22 134.4v1.8M356.08 231.9v-1.8M356.08 134.4v1.8M361.94 231.9v-1.8M361.94 134.4v1.8M367.80 231.9v-1.8M367.80 134.4v1.8M373.66 231.9v-1.8M373.66 134.4v1.8M379.52 231.9v-1.8M379.52 134.4v1.8M385.38 231.9v-1.8M385.38 134.4v1.8M391.24 231.9v-1.8M391.24 134.4v1.8M397.10 231.9v-1.8M397.10 134.4v1.8M402.96 231.9v-1.8M402.96 134.4v1.8M408.82 231.9v-1.8M408.82 134.4v1.8M414.68 231.9v-1.8M414.68 134.4v1.8M420.54 231.9v-1.8M420.54 134.4v1.8M426.40 231.9v-1.8M426.40 134.4v1.8M432.26 231.9v-1.8M432.26 134.4v1.8M438.12 231.9v-1.8M438.12 134.4v1.8M443.98 231.9v-1.8M443.98 134.4v1.8M449.84 231.9v-1.8M449.84 134.4v1.8M455.70 231.9v-1.8M455.70 134.4v1.8M461.56 231.9v-1.8M461.56 134.4v1.8M467.42 231.9v-1.8M467.42 134.4v1.8M473.28 231.9v-1.8M473.28 134.4v1.8M479.14 231.9v-1.8M479.14 134.4v1.8M485.00 231.9v-1.8M485.00 134.4v1.8M490.86 231.9v-1.8M490.86 134.4v1.8M496.72 231.9v-1.8M496.72 134.4v1.8M502.58 231.9v-1.8M502.58 134.4v1.8M508.44 231.9v-1.8M508.44 134.4v1.8M514.30 231.9v-1.8M514.30 134.4v1.8M520.16 231.9v-1.8M520.16 134.4v1.8M526.02 231.9v-1.8M526.02 134.4v1.8M531.88 231.9v-1.8M531.88 134.4v1.8M537.74 231.9v-1.8M537.74 134.4v1.8M318.4 230.00h1.8M544.0 230.00h-1.8M318.4 223.86h1.8M544.0 223.86h-1.8M318.4 217.72h1.8M544.0 217.72h-1.8M318.4 211.57h1.8M544.0 211.57h-1.8M318.4 205.43h1.8M544.0 205.43h-1.8M318.4 199.29h1.8M544.0 199.29h-1.8M318.4 193.15h1.8M544.0 193.15h-1.8M318.4 187.01h1.8M544.0 187.01h-1.8M318.4 180.87h1.8M544.0 180.87h-1.8M318.4 174.72h1.8M544.0 174.72h-1.8M318.4 168.58h1.8M544.0 168.58h-1.8M318.4 162.44h1.8M544.0 162.44h-1.8M318.4 156.30h1.8M544.0 156.30h-1.8M318.4 150.16h1.8M544.0 150.16h-1.8M318.4 144.02h1.8M544.0 144.02h-1.8M318.4 137.88h1.8M544.0 137.88h-1.8" stroke="#bdbdbd" stroke-width="0.8" fill="none"/>
<text x="338.50" y="243.8" font-family="&quot;Liberation Serif&quot;, serif" font-size="9.5" fill="#474747" text-anchor="middle">0.7</text>
<text x="367.80" y="243.8" font-family="&quot;Liberation Serif&quot;, serif" font-size="9.5" fill="#474747" text-anchor="middle">0.8</text>
<text x="397.10" y="243.8" font-family="&quot;Liberation Serif&quot;, serif" font-size="9.5" fill="#474747" text-anchor="middle">0.9</text>
<text x="426.40" y="243.8" font-family="&quot;Liberation Serif&quot;, serif" font-size="9.5" fill="#474747" text-anchor="middle">1</text>
<text x="455.70" y="243.8" font-family="&quot;Liberation Serif&quot;, serif" font-size="9.5" fill="#474747" text-anchor="middle">1.1</text>
<text x="485.00" y="243.8" font-family="&quot;Liberation Serif&quot;, serif" font-size="9.5" fill="#474747" text-anchor="middle">1.2</text>
<text x="514.30" y="243.8" font-family="&quot;Liberation Serif&quot;, serif" font-size="9.5" fill="#474747" text-anchor="middle">1.3</text>
<text x="315.10" y="233.00" font-family="&quot;Liberation Serif&quot;, serif" font-size="9.5" fill="#474747" text-anchor="end">0.6</text>
<text x="315.10" y="208.43" font-family="&quot;Liberation Serif&quot;, serif" font-size="9.5" fill="#474747" text-anchor="end">0.8</text>
<text x="315.10" y="183.87" font-family="&quot;Liberation Serif&quot;, serif" font-size="9.5" fill="#474747" text-anchor="end">1</text>
<text x="315.10" y="159.30" font-family="&quot;Liberation Serif&quot;, serif" font-size="9.5" fill="#474747" text-anchor="end">1.2</text>
<g transform="translate(431.20 257.6)"><text x="0" y="0" font-family="&quot;Liberation Serif&quot;, serif" font-size="11.3" fill="#303030" text-anchor="middle">λ<tspan font-size="7.5" dy="2">2</tspan><tspan dy="-2"> goal received</tspan></text><path d="M-34.09 -8.9c0.5 -0.8 1.0 -0.8 1.5 -0.3s1.0 0.5 1.5 -0.3" stroke="#222" stroke-width="0.6" fill="none"/></g>
<g transform="translate(298.8 183.15) rotate(-90)"><text x="0" y="0" font-family="&quot;Liberation Serif&quot;, serif" font-size="11.3" fill="#303030" text-anchor="middle">λ<tspan font-size="7.5" dy="2">2</tspan><tspan dy="-2"> goal scored</tspan></text><path d="M-29.75 -8.9c0.5 -0.8 1.0 -0.8 1.5 -0.3s1.0 0.5 1.5 -0.3" stroke="#222" stroke-width="0.6" fill="none"/></g>
<text x="343.4" y="147.30" font-family="&quot;Liberation Serif&quot;, serif" font-weight="bold" font-size="11.5" fill="#111" text-anchor="middle">D</text>
<line x1="319.0" y1="225.5" x2="523.2" y2="140.1" stroke="#9c9cec" stroke-width="0.7"/>
<circle cx="342.8" cy="194.5" r="2.2" fill="none" stroke="#306ea6" stroke-width="0.9"/>
<circle cx="347.5" cy="192.1" r="2.2" fill="none" stroke="#306ea6" stroke-width="0.9"/>
<circle cx="347.3" cy="179.9" r="2.2" fill="none" stroke="#306ea6" stroke-width="0.9"/>
<circle cx="368.0" cy="206.8" r="2.2" fill="none" stroke="#306ea6" stroke-width="0.9"/>
<circle cx="354.7" cy="226.4" r="2.2" fill="none" stroke="#306ea6" stroke-width="0.9"/>
<circle cx="382.7" cy="195.2" r="2.2" fill="none" stroke="#306ea6" stroke-width="0.9"/>
<circle cx="386.4" cy="191.4" r="2.2" fill="none" stroke="#306ea6" stroke-width="0.9"/>
<circle cx="386.4" cy="201.3" r="2.2" fill="none" stroke="#306ea6" stroke-width="0.9"/>
<circle cx="389.5" cy="181.5" r="2.2" fill="none" stroke="#306ea6" stroke-width="0.9"/>
<circle cx="398.0" cy="169.3" r="2.2" fill="none" stroke="#306ea6" stroke-width="0.9"/>
<circle cx="406.9" cy="184.6" r="2.2" fill="none" stroke="#306ea6" stroke-width="0.9"/>
<circle cx="405.8" cy="201.6" r="2.2" fill="none" stroke="#306ea6" stroke-width="0.9"/>
<circle cx="416.8" cy="181.5" r="2.2" fill="none" stroke="#306ea6" stroke-width="0.9"/>
<circle cx="423.9" cy="184.4" r="2.2" fill="none" stroke="#306ea6" stroke-width="0.9"/>
<circle cx="418.3" cy="199.2" r="2.2" fill="none" stroke="#306ea6" stroke-width="0.9"/>
<circle cx="423.5" cy="156.8" r="2.2" fill="none" stroke="#306ea6" stroke-width="0.9"/>
<circle cx="431.6" cy="183.3" r="2.2" fill="none" stroke="#306ea6" stroke-width="0.9"/>
<circle cx="440.8" cy="182.8" r="2.2" fill="none" stroke="#306ea6" stroke-width="0.9"/>
<circle cx="539.6" cy="151.0" r="2.2" fill="none" stroke="#306ea6" stroke-width="0.9"/>
<text transform="translate(336.2 192.23) scale(0.97 1)" font-family="&quot;Liberation Sans&quot;, sans-serif" font-size="9.5" fill="#1a1a1a" stroke="#1a1a1a" stroke-width="0.1" text-anchor="middle">20</text>
<text transform="translate(353.2 189.83) scale(0.97 1)" font-family="&quot;Liberation Sans&quot;, sans-serif" font-size="9.5" fill="#1a1a1a" stroke="#1a1a1a" stroke-width="0.1" text-anchor="middle">16</text>
<text transform="translate(353.9 178.03) scale(0.97 1)" font-family="&quot;Liberation Sans&quot;, sans-serif" font-size="9.5" fill="#1a1a1a" stroke="#1a1a1a" stroke-width="0.1" text-anchor="middle">11</text>
<text transform="translate(372.3 215.33) scale(0.97 1)" font-family="&quot;Liberation Sans&quot;, sans-serif" font-size="9.5" fill="#1a1a1a" stroke="#1a1a1a" stroke-width="0.1" text-anchor="middle">2</text>
<text transform="translate(363.5 230.53) scale(0.97 1)" font-family="&quot;Liberation Sans&quot;, sans-serif" font-size="9.5" fill="#1a1a1a" stroke="#1a1a1a" stroke-width="0.1" text-anchor="middle">8</text>
<text transform="translate(373.9 193.63) scale(0.97 1)" font-family="&quot;Liberation Sans&quot;, sans-serif" font-size="9.5" fill="#1a1a1a" stroke="#1a1a1a" stroke-width="0.1" text-anchor="middle">17</text>
<text transform="translate(396.3 196.44) scale(0.97 1)" font-family="&quot;Liberation Sans&quot;, sans-serif" font-size="9.5" fill="#1a1a1a" stroke="#1a1a1a" stroke-width="0.1" text-anchor="middle">10</text>
<text transform="translate(392.8 211.33) scale(0.97 1)" font-family="&quot;Liberation Sans&quot;, sans-serif" font-size="9.5" fill="#1a1a1a" stroke="#1a1a1a" stroke-width="0.1" text-anchor="middle">18</text>
<text transform="translate(385.0 177.63) scale(0.97 1)" font-family="&quot;Liberation Sans&quot;, sans-serif" font-size="9.5" fill="#1a1a1a" stroke="#1a1a1a" stroke-width="0.1" text-anchor="middle">14</text>
<text transform="translate(401.0 165.33) scale(0.97 1)" font-family="&quot;Liberation Sans&quot;, sans-serif" font-size="9.5" fill="#1a1a1a" stroke="#1a1a1a" stroke-width="0.1" text-anchor="middle">3</text>
<text transform="translate(409.3 180.44) scale(0.97 1)" font-family="&quot;Liberation Sans&quot;, sans-serif" font-size="9.5" fill="#1a1a1a" stroke="#1a1a1a" stroke-width="0.1" text-anchor="middle">7</text>
<text transform="translate(410.5 209.94) scale(0.97 1)" font-family="&quot;Liberation Sans&quot;, sans-serif" font-size="9.5" fill="#1a1a1a" stroke="#1a1a1a" stroke-width="0.1" text-anchor="middle">1</text>
<text transform="translate(422.3 177.63) scale(0.97 1)" font-family="&quot;Liberation Sans&quot;, sans-serif" font-size="9.5" fill="#1a1a1a" stroke="#1a1a1a" stroke-width="0.1" text-anchor="middle">13</text>
<text transform="translate(423.9 194.83) scale(0.97 1)" font-family="&quot;Liberation Sans&quot;, sans-serif" font-size="9.5" fill="#1a1a1a" stroke="#1a1a1a" stroke-width="0.1" text-anchor="middle">19</text>
<text transform="translate(423.0 209.94) scale(0.97 1)" font-family="&quot;Liberation Sans&quot;, sans-serif" font-size="9.5" fill="#1a1a1a" stroke="#1a1a1a" stroke-width="0.1" text-anchor="middle">4</text>
<text transform="translate(428.6 156.94) scale(0.97 1)" font-family="&quot;Liberation Sans&quot;, sans-serif" font-size="9.5" fill="#1a1a1a" stroke="#1a1a1a" stroke-width="0.1" text-anchor="middle">9</text>
<text transform="translate(437.3 177.83) scale(0.97 1)" font-family="&quot;Liberation Sans&quot;, sans-serif" font-size="9.5" fill="#1a1a1a" stroke="#1a1a1a" stroke-width="0.1" text-anchor="middle">12</text>
<text transform="translate(448.8 183.53) scale(0.97 1)" font-family="&quot;Liberation Sans&quot;, sans-serif" font-size="9.5" fill="#1a1a1a" stroke="#1a1a1a" stroke-width="0.1" text-anchor="middle">5</text>
<text transform="translate(533.9 161.94) scale(0.97 1)" font-family="&quot;Liberation Sans&quot;, sans-serif" font-size="9.5" fill="#1a1a1a" stroke="#1a1a1a" stroke-width="0.1" text-anchor="middle">6</text>
<circle cx="322.8" cy="198.0" r="4.8" fill="#2030d0"/><circle cx="322.8" cy="198.0" r="2.0" fill="#e0333a"/>
<text x="340.9" y="210.90" font-family="&quot;Liberation Sans&quot;, sans-serif" font-weight="bold" font-size="9.4" fill="#111" text-anchor="middle">Barcelona</text>
<rect x="32.8" y="260.7" width="227.20" height="92.60" fill="none" stroke="#cbcbcb" stroke-width="0.9"/>
<path d="M38.66 353.3v-1.8M38.66 260.7v1.8M46.33 353.3v-1.8M46.33 260.7v1.8M54.00 353.3v-1.8M54.00 260.7v1.8M61.67 353.3v-1.8M61.67 260.7v1.8M69.34 353.3v-1.8M69.34 260.7v1.8M77.01 353.3v-1.8M77.01 260.7v1.8M84.68 353.3v-1.8M84.68 260.7v1.8M92.35 353.3v-1.8M92.35 260.7v1.8M100.02 353.3v-1.8M100.02 260.7v1.8M107.69 353.3v-1.8M107.69 260.7v1.8M115.36 353.3v-1.8M115.36 260.7v1.8M123.03 353.3v-1.8M123.03 260.7v1.8M130.70 353.3v-1.8M130.70 260.7v1.8M138.37 353.3v-1.8M138.37 260.7v1.8M146.04 353.3v-1.8M146.04 260.7v1.8M153.71 353.3v-1.8M153.71 260.7v1.8M161.38 353.3v-1.8M161.38 260.7v1.8M169.05 353.3v-1.8M169.05 260.7v1.8M176.72 353.3v-1.8M176.72 260.7v1.8M184.39 353.3v-1.8M184.39 260.7v1.8M192.06 353.3v-1.8M192.06 260.7v1.8M199.73 353.3v-1.8M199.73 260.7v1.8M207.40 353.3v-1.8M207.40 260.7v1.8M215.07 353.3v-1.8M215.07 260.7v1.8M222.74 353.3v-1.8M222.74 260.7v1.8M230.41 353.3v-1.8M230.41 260.7v1.8M238.08 353.3v-1.8M238.08 260.7v1.8M245.75 353.3v-1.8M245.75 260.7v1.8M253.42 353.3v-1.8M253.42 260.7v1.8M32.8 352.40h1.8M260.0 352.40h-1.8M32.8 346.20h1.8M260.0 346.20h-1.8M32.8 340.00h1.8M260.0 340.00h-1.8M32.8 333.80h1.8M260.0 333.80h-1.8M32.8 327.60h1.8M260.0 327.60h-1.8M32.8 321.40h1.8M260.0 321.40h-1.8M32.8 315.20h1.8M260.0 315.20h-1.8M32.8 309.00h1.8M260.0 309.00h-1.8M32.8 302.80h1.8M260.0 302.80h-1.8M32.8 296.60h1.8M260.0 296.60h-1.8M32.8 290.40h1.8M260.0 290.40h-1.8M32.8 284.20h1.8M260.0 284.20h-1.8M32.8 278.00h1.8M260.0 278.00h-1.8M32.8 271.80h1.8M260.0 271.80h-1.8M32.8 265.60h1.8M260.0 265.60h-1.8" stroke="#bdbdbd" stroke-width="0.8" fill="none"/>
<text x="54.00" y="364.3" font-family="&quot;Liberation Serif&quot;, serif" font-size="9.5" fill="#474747" text-anchor="middle">0.145</text>
<text x="92.35" y="364.3" font-family="&quot;Liberation Serif&quot;, serif" font-size="9.5" fill="#474747" text-anchor="middle">0.15</text>
<text x="130.70" y="364.3" font-family="&quot;Liberation Serif&quot;, serif" font-size="9.5" fill="#474747" text-anchor="middle">0.155</text>
<text x="169.05" y="364.3" font-family="&quot;Liberation Serif&quot;, serif" font-size="9.5" fill="#474747" text-anchor="middle">0.16</text>
<text x="207.40" y="364.3" font-family="&quot;Liberation Serif&quot;, serif" font-size="9.5" fill="#474747" text-anchor="middle">0.165</text>
<text x="245.75" y="364.3" font-family="&quot;Liberation Serif&quot;, serif" font-size="9.5" fill="#474747" text-anchor="middle">0.17</text>
<text x="29.50" y="343.00" font-family="&quot;Liberation Serif&quot;, serif" font-size="9.5" fill="#474747" text-anchor="end">0.14</text>
<text x="29.50" y="318.20" font-family="&quot;Liberation Serif&quot;, serif" font-size="9.5" fill="#474747" text-anchor="end">0.15</text>
<text x="29.50" y="293.40" font-family="&quot;Liberation Serif&quot;, serif" font-size="9.5" fill="#474747" text-anchor="end">0.16</text>
<text x="29.50" y="268.60" font-family="&quot;Liberation Serif&quot;, serif" font-size="9.5" fill="#474747" text-anchor="end">0.17</text>
<g transform="translate(146.40 376.9)"><text x="0" y="0" font-family="&quot;Liberation Serif&quot;, serif" font-size="11.3" fill="#303030" text-anchor="middle">Centrality dispersion goal received</text></g>
<g transform="translate(8.4 307.00) rotate(-90)"><text x="0" y="0" font-family="&quot;Liberation Serif&quot;, serif" font-size="11.3" fill="#303030" text-anchor="middle">Centrality dispersion goal scored</text></g>
<text x="57.2" y="273.60" font-family="&quot;Liberation Serif&quot;, serif" font-weight="bold" font-size="11.5" fill="#111" text-anchor="middle">E</text>
<line x1="32.8" y1="336.2" x2="260.0" y2="261.5" stroke="#9c9cec" stroke-width="0.7"/>
<circle cx="69.7" cy="310.4" r="2.2" fill="none" stroke="#306ea6" stroke-width="0.9"/>
<circle cx="74.1" cy="299.7" r="2.2" fill="none" stroke="#306ea6" stroke-width="0.9"/>
<circle cx="84.4" cy="311.4" r="2.2" fill="none" stroke="#306ea6" stroke-width="0.9"/>
<circle cx="97.2" cy="315.5" r="2.2" fill="none" stroke="#306ea6" stroke-width="0.9"/>
<circle cx="100.8" cy="312.5" r="2.2" fill="none" stroke="#306ea6" stroke-width="0.9"/>
<circle cx="107.1" cy="313.3" r="2.2" fill="none" stroke="#306ea6" stroke-width="0.9"/>
<circle cx="84.2" cy="331.2" r="2.2" fill="none" stroke="#306ea6" stroke-width="0.9"/>
<circle cx="110.7" cy="300.1" r="2.2" fill="none" stroke="#306ea6" stroke-width="0.9"/>
<circle cx="122.5" cy="299.7" r="2.2" fill="none" stroke="#306ea6" stroke-width="0.9"/>
<circle cx="129.3" cy="299.2" r="2.2" fill="none" stroke="#306ea6" stroke-width="0.9"/>
<circle cx="125.7" cy="311.4" r="2.2" fill="none" stroke="#306ea6" stroke-width="0.9"/>
<circle cx="126.9" cy="319.8" r="2.2" fill="none" stroke="#306ea6" stroke-width="0.9"/>
<circle cx="120.2" cy="331.1" r="2.2" fill="none" stroke="#306ea6" stroke-width="0.9"/>
<circle cx="143.3" cy="294.5" r="2.2" fill="none" stroke="#306ea6" stroke-width="0.9"/>
<circle cx="146.9" cy="292.3" r="2.2" fill="none" stroke="#306ea6" stroke-width="0.9"/>
<circle cx="161.0" cy="298.6" r="2.2" fill="none" stroke="#306ea6" stroke-width="0.9"/>
<circle cx="151.3" cy="313.0" r="2.2" fill="none" stroke="#306ea6" stroke-width="0.9"/>
<circle cx="211.6" cy="278.3" r="2.2" fill="none" stroke="#306ea6" stroke-width="0.9"/>
<text transform="translate(64.4 309.24) scale(0.97 1)" font-family="&quot;Liberation Sans&quot;, sans-serif" font-size="9.5" fill="#1a1a1a" stroke="#1a1a1a" stroke-width="0.1" text-anchor="middle">1</text>
<text transform="translate(78.9 298.44) scale(0.97 1)" font-family="&quot;Liberation Sans&quot;, sans-serif" font-size="9.5" fill="#1a1a1a" stroke="#1a1a1a" stroke-width="0.1" text-anchor="middle">7</text>
<text transform="translate(90.3 309.83) scale(0.97 1)" font-family="&quot;Liberation Sans&quot;, sans-serif" font-size="9.5" fill="#1a1a1a" stroke="#1a1a1a" stroke-width="0.1" text-anchor="middle">14</text>
<text transform="translate(91.3 325.53) scale(0.97 1)" font-family="&quot;Liberation Sans&quot;, sans-serif" font-size="9.5" fill="#1a1a1a" stroke="#1a1a1a" stroke-width="0.1" text-anchor="middle">10</text>
<text transform="translate(101.6 309.83) scale(0.97 1)" font-family="&quot;Liberation Sans&quot;, sans-serif" font-size="9.5" fill="#1a1a1a" stroke="#1a1a1a" stroke-width="0.1" text-anchor="middle">6</text>
<text transform="translate(109.2 325.24) scale(0.97 1)" font-family="&quot;Liberation Sans&quot;, sans-serif" font-size="9.5" fill="#1a1a1a" stroke="#1a1a1a" stroke-width="0.1" text-anchor="middle">11</text>
<text transform="translate(78.6 339.44) scale(0.97 1)" font-family="&quot;Liberation Sans&quot;, sans-serif" font-size="9.5" fill="#1a1a1a" stroke="#1a1a1a" stroke-width="0.1" text-anchor="middle">9</text>
<text transform="translate(106.8 297.33) scale(0.97 1)" font-family="&quot;Liberation Sans&quot;, sans-serif" font-size="9.5" fill="#1a1a1a" stroke="#1a1a1a" stroke-width="0.1" text-anchor="middle">5</text>
<text transform="translate(117.5 294.44) scale(0.97 1)" font-family="&quot;Liberation Sans&quot;, sans-serif" font-size="9.5" fill="#1a1a1a" stroke="#1a1a1a" stroke-width="0.1" text-anchor="middle">19</text>
<text transform="translate(136.2 307.94) scale(0.97 1)" font-family="&quot;Liberation Sans&quot;, sans-serif" font-size="9.5" fill="#1a1a1a" stroke="#1a1a1a" stroke-width="0.1" text-anchor="middle">2</text>
<text transform="translate(117.0 311.94) scale(0.97 1)" font-family="&quot;Liberation Sans&quot;, sans-serif" font-size="9.5" fill="#1a1a1a" stroke="#1a1a1a" stroke-width="0.1" text-anchor="middle">12</text>
<text transform="translate(134.3 319.33) scale(0.97 1)" font-family="&quot;Liberation Sans&quot;, sans-serif" font-size="9.5" fill="#1a1a1a" stroke="#1a1a1a" stroke-width="0.1" text-anchor="middle">4</text>
<text transform="translate(126.1 337.33) scale(0.97 1)" font-family="&quot;Liberation Sans&quot;, sans-serif" font-size="9.5" fill="#1a1a1a" stroke="#1a1a1a" stroke-width="0.1" text-anchor="middle">3</text>
<text transform="translate(137.1 293.33) scale(0.97 1)" font-family="&quot;Liberation Sans&quot;, sans-serif" font-size="9.5" fill="#1a1a1a" stroke="#1a1a1a" stroke-width="0.1" text-anchor="middle">16</text>
<text transform="translate(151.1 289.13) scale(0.97 1)" font-family="&quot;Liberation Sans&quot;, sans-serif" font-size="9.5" fill="#1a1a1a" stroke="#1a1a1a" stroke-width="0.1" text-anchor="middle">18</text>
<text transform="translate(168.3 297.03) scale(0.97 1)" font-family="&quot;Liberation Sans&quot;, sans-serif" font-size="9.5" fill="#1a1a1a" stroke="#1a1a1a" stroke-width="0.1" text-anchor="middle">20</text>
<text transform="translate(160.7 313.03) scale(0.97 1)" font-family="&quot;Liberation Sans&quot;, sans-serif" font-size="9.5" fill="#1a1a1a" stroke="#1a1a1a" stroke-width="0.1" text-anchor="middle">17</text>
<text transform="translate(214.4 274.83) scale(0.97 1)" font-family="&quot;Liberation Sans&quot;, sans-serif" font-size="9.5" fill="#1a1a1a" stroke="#1a1a1a" stroke-width="0.1" text-anchor="middle">8</text>
<text transform="translate(135.6 328.74) scale(0.97 1)" font-family="&quot;Liberation Sans&quot;, sans-serif" font-size="9.5" fill="#1a1a1a" stroke="#1a1a1a" stroke-width="0.1" text-anchor="middle">13</text>
<circle cx="251.0" cy="277.8" r="4.8" fill="#2030d0"/><circle cx="251.0" cy="277.8" r="2.0" fill="#e0333a"/>
<text x="237.2" y="289.80" font-family="&quot;Liberation Sans&quot;, sans-serif" font-weight="bold" font-size="9.4" fill="#111" text-anchor="middle">Barcelona</text>
<rect x="318.7" y="260.5" width="226.00" height="92.50" fill="none" stroke="#cbcbcb" stroke-width="0.9"/>
<path d="M321.70 353.0v-1.8M321.70 260.5v1.8M330.90 353.0v-1.8M330.90 260.5v1.8M340.09 353.0v-1.8M340.09 260.5v1.8M349.29 353.0v-1.8M349.29 260.5v1.8M358.48 353.0v-1.8M358.48 260.5v1.8M367.68 353.0v-1.8M367.68 260.5v1.8M376.88 353.0v-1.8M376.88 260.5v1.8M386.07 353.0v-1.8M386.07 260.5v1.8M395.26 353.0v-1.8M395.26 260.5v1.8M404.46 353.0v-1.8M404.46 260.5v1.8M413.65 353.0v-1.8M413.65 260.5v1.8M422.85 353.0v-1.8M422.85 260.5v1.8M432.04 353.0v-1.8M432.04 260.5v1.8M441.24 353.0v-1.8M441.24 260.5v1.8M450.43 353.0v-1.8M450.43 260.5v1.8M459.63 353.0v-1.8M459.63 260.5v1.8M468.82 353.0v-1.8M468.82 260.5v1.8M478.02 353.0v-1.8M478.02 260.5v1.8M487.21 353.0v-1.8M487.21 260.5v1.8M496.41 353.0v-1.8M496.41 260.5v1.8M505.60 353.0v-1.8M505.60 260.5v1.8M514.80 353.0v-1.8M514.80 260.5v1.8M523.99 353.0v-1.8M523.99 260.5v1.8M533.19 353.0v-1.8M533.19 260.5v1.8M542.38 353.0v-1.8M542.38 260.5v1.8M318.7 349.58h1.8M544.7 349.58h-1.8M318.7 342.65h1.8M544.7 342.65h-1.8M318.7 335.73h1.8M544.7 335.73h-1.8M318.7 328.80h1.8M544.7 328.80h-1.8M318.7 321.88h1.8M544.7 321.88h-1.8M318.7 314.95h1.8M544.7 314.95h-1.8M318.7 308.02h1.8M544.7 308.02h-1.8M318.7 301.10h1.8M544.7 301.10h-1.8M318.7 294.18h1.8M544.7 294.18h-1.8M318.7 287.25h1.8M544.7 287.25h-1.8M318.7 280.32h1.8M544.7 280.32h-1.8M318.7 273.40h1.8M544.7 273.40h-1.8M318.7 266.47h1.8M544.7 266.47h-1.8" stroke="#bdbdbd" stroke-width="0.8" fill="none"/>
<text x="330.90" y="364.0" font-family="&quot;Liberation Serif&quot;, serif" font-size="9.5" fill="#474747" text-anchor="middle">0.5</text>
<text x="376.88" y="364.0" font-family="&quot;Liberation Serif&quot;, serif" font-size="9.5" fill="#474747" text-anchor="middle">0.51</text>
<text x="422.85" y="364.0" font-family="&quot;Liberation Serif&quot;, serif" font-size="9.5" fill="#474747" text-anchor="middle">0.52</text>
<text x="468.82" y="364.0" font-family="&quot;Liberation Serif&quot;, serif" font-size="9.5" fill="#474747" text-anchor="middle">0.53</text>
<text x="514.80" y="364.0" font-family="&quot;Liberation Serif&quot;, serif" font-size="9.5" fill="#474747" text-anchor="middle">0.54</text>
<text x="315.40" y="331.80" font-family="&quot;Liberation Serif&quot;, serif" font-size="9.5" fill="#474747" text-anchor="end">0.5</text>
<text x="315.40" y="304.10" font-family="&quot;Liberation Serif&quot;, serif" font-size="9.5" fill="#474747" text-anchor="end">0.52</text>
<text x="315.40" y="276.40" font-family="&quot;Liberation Serif&quot;, serif" font-size="9.5" fill="#474747" text-anchor="end">0.54</text>
<g transform="translate(431.70 377.1)"><text x="0" y="0" font-family="&quot;Liberation Serif&quot;, serif" font-size="11.3" fill="#303030" text-anchor="middle">Highest centrality goal received</text></g>
<g transform="translate(293.9 306.75) rotate(-90)"><text x="0" y="0" font-family="&quot;Liberation Serif&quot;, serif" font-size="11.3" fill="#303030" text-anchor="middle">Highest centrality goal scored</text></g>
<text x="342.4" y="273.20" font-family="&quot;Liberation Serif&quot;, serif" font-weight="bold" font-size="11.5" fill="#111" text-anchor="middle">F</text>
<line x1="318.7" y1="333.0" x2="544.7" y2="264.2" stroke="#9c9cec" stroke-width="0.7"/>
<circle cx="329.4" cy="291.2" r="2.2" fill="none" stroke="#306ea6" stroke-width="0.9"/>
<circle cx="344.1" cy="321.5" r="2.2" fill="none" stroke="#306ea6" stroke-width="0.9"/>
<circle cx="356.6" cy="310.7" r="2.2" fill="none" stroke="#306ea6" stroke-width="0.9"/>
<circle cx="365.0" cy="320.9" r="2.2" fill="none" stroke="#306ea6" stroke-width="0.9"/>
<circle cx="372.4" cy="315.7" r="2.2" fill="none" stroke="#306ea6" stroke-width="0.9"/>
<circle cx="378.6" cy="319.0" r="2.2" fill="none" stroke="#306ea6" stroke-width="0.9"/>
<circle cx="374.0" cy="330.3" r="2.2" fill="none" stroke="#306ea6" stroke-width="0.9"/>
<circle cx="395.4" cy="286.6" r="2.2" fill="none" stroke="#306ea6" stroke-width="0.9"/>
<circle cx="408.6" cy="290.1" r="2.2" fill="none" stroke="#306ea6" stroke-width="0.9"/>
<circle cx="404.4" cy="309.0" r="2.2" fill="none" stroke="#306ea6" stroke-width="0.9"/>
<circle cx="415.7" cy="302.7" r="2.2" fill="none" stroke="#306ea6" stroke-width="0.9"/>
<circle cx="412.1" cy="311.1" r="2.2" fill="none" stroke="#306ea6" stroke-width="0.9"/>
<circle cx="431.5" cy="309.2" r="2.2" fill="none" stroke="#306ea6" stroke-width="0.9"/>
<circle cx="439.6" cy="295.3" r="2.2" fill="none" stroke="#306ea6" stroke-width="0.9"/>
<circle cx="443.5" cy="286.6" r="2.2" fill="none" stroke="#306ea6" stroke-width="0.9"/>
<circle cx="460.9" cy="283.7" r="2.2" fill="none" stroke="#306ea6" stroke-width="0.9"/>
<circle cx="481.5" cy="287.0" r="2.2" fill="none" stroke="#306ea6" stroke-width="0.9"/>
<circle cx="478.3" cy="303.3" r="2.2" fill="none" stroke="#306ea6" stroke-width="0.9"/>
<circle cx="465.2" cy="337.4" r="2.2" fill="none" stroke="#306ea6" stroke-width="0.9"/>
<text transform="translate(338.4 299.94) scale(0.97 1)" font-family="&quot;Liberation Sans&quot;, sans-serif" font-size="9.5" fill="#1a1a1a" stroke="#1a1a1a" stroke-width="0.1" text-anchor="middle">7</text>
<text transform="translate(338.8 316.74) scale(0.97 1)" font-family="&quot;Liberation Sans&quot;, sans-serif" font-size="9.5" fill="#1a1a1a" stroke="#1a1a1a" stroke-width="0.1" text-anchor="middle">1</text>
<text transform="translate(363.6 306.44) scale(0.97 1)" font-family="&quot;Liberation Sans&quot;, sans-serif" font-size="9.5" fill="#1a1a1a" stroke="#1a1a1a" stroke-width="0.1" text-anchor="middle">14</text>
<text transform="translate(358.7 330.94) scale(0.97 1)" font-family="&quot;Liberation Sans&quot;, sans-serif" font-size="9.5" fill="#1a1a1a" stroke="#1a1a1a" stroke-width="0.1" text-anchor="middle">10</text>
<text transform="translate(379.3 309.63) scale(0.97 1)" font-family="&quot;Liberation Sans&quot;, sans-serif" font-size="9.5" fill="#1a1a1a" stroke="#1a1a1a" stroke-width="0.1" text-anchor="middle">17</text>
<text transform="translate(385.5 329.94) scale(0.97 1)" font-family="&quot;Liberation Sans&quot;, sans-serif" font-size="9.5" fill="#1a1a1a" stroke="#1a1a1a" stroke-width="0.1" text-anchor="middle">9</text>
<text transform="translate(370.9 341.03) scale(0.97 1)" font-family="&quot;Liberation Sans&quot;, sans-serif" font-size="9.5" fill="#1a1a1a" stroke="#1a1a1a" stroke-width="0.1" text-anchor="middle">4</text>
<text transform="translate(400.6 281.13) scale(0.97 1)" font-family="&quot;Liberation Sans&quot;, sans-serif" font-size="9.5" fill="#1a1a1a" stroke="#1a1a1a" stroke-width="0.1" text-anchor="middle">19</text>
<text transform="translate(416.3 288.63) scale(0.97 1)" font-family="&quot;Liberation Sans&quot;, sans-serif" font-size="9.5" fill="#1a1a1a" stroke="#1a1a1a" stroke-width="0.1" text-anchor="middle">12</text>
<text transform="translate(394.8 305.24) scale(0.97 1)" font-family="&quot;Liberation Sans&quot;, sans-serif" font-size="9.5" fill="#1a1a1a" stroke="#1a1a1a" stroke-width="0.1" text-anchor="middle">11</text>
<text transform="translate(422.6 302.03) scale(0.97 1)" font-family="&quot;Liberation Sans&quot;, sans-serif" font-size="9.5" fill="#1a1a1a" stroke="#1a1a1a" stroke-width="0.1" text-anchor="middle">8</text>
<text transform="translate(418.0 321.53) scale(0.97 1)" font-family="&quot;Liberation Sans&quot;, sans-serif" font-size="9.5" fill="#1a1a1a" stroke="#1a1a1a" stroke-width="0.1" text-anchor="middle">3</text>
<text transform="translate(439.1 320.53) scale(0.97 1)" font-family="&quot;Liberation Sans&quot;, sans-serif" font-size="9.5" fill="#1a1a1a" stroke="#1a1a1a" stroke-width="0.1" text-anchor="middle">2</text>
<text transform="translate(450.0 303.13) scale(0.97 1)" font-family="&quot;Liberation Sans&quot;, sans-serif" font-size="9.5" fill="#1a1a1a" stroke="#1a1a1a" stroke-width="0.1" text-anchor="middle">18</text>
<text transform="translate(438.5 277.13) scale(0.97 1)" font-family="&quot;Liberation Sans&quot;, sans-serif" font-size="9.5" fill="#1a1a1a" stroke="#1a1a1a" stroke-width="0.1" text-anchor="middle">20</text>
<text transform="translate(463.7 278.63) scale(0.97 1)" font-family="&quot;Liberation Sans&quot;, sans-serif" font-size="9.5" fill="#1a1a1a" stroke="#1a1a1a" stroke-width="0.1" text-anchor="middle">16</text>
<text transform="translate(483.3 279.24) scale(0.97 1)" font-family="&quot;Liberation Sans&quot;, sans-serif" font-size="9.5" fill="#1a1a1a" stroke="#1a1a1a" stroke-width="0.1" text-anchor="middle">6</text>
<text transform="translate(485.2 309.74) scale(0.97 1)" font-family="&quot;Liberation Sans&quot;, sans-serif" font-size="9.5" fill="#1a1a1a" stroke="#1a1a1a" stroke-width="0.1" text-anchor="middle">5</text>
<text transform="translate(475.4 342.74) scale(0.97 1)" font-family="&quot;Liberation Sans&quot;, sans-serif" font-size="9.5" fill="#1a1a1a" stroke="#1a1a1a" stroke-width="0.1" text-anchor="middle">13</text>
<circle cx="506.0" cy="272.0" r="4.8" fill="#2030d0"/><circle cx="506.0" cy="272.0" r="2.0" fill="#e0333a"/>
<text x="521.3" y="283.90" font-family="&quot;Liberation Sans&quot;, sans-serif" font-weight="bold" font-size="9.4" fill="#111" text-anchor="middle">Barcelona</text>
<rect x="564.6" y="85.4" width="94.6" height="212.6" fill="#fff" stroke="#c6c6c6" stroke-width="0.9"/>
<text transform="translate(567.5 95.50) scale(0.945 1)" font-family="&quot;Liberation Sans&quot;, sans-serif" font-size="8.6" fill="#111" stroke="#111" stroke-width="0.12">1:Real Madrid</text>
<text transform="translate(567.5 106.03) scale(0.945 1)" font-family="&quot;Liberation Sans&quot;, sans-serif" font-size="8.6" fill="#111" stroke="#111" stroke-width="0.12">2:Dep. La Coruña</text>
<text transform="translate(567.5 116.56) scale(0.945 1)" font-family="&quot;Liberation Sans&quot;, sans-serif" font-size="8.6" fill="#111" stroke="#111" stroke-width="0.12">3:Athletic Club</text>
<text transform="translate(567.5 127.09) scale(0.945 1)" font-family="&quot;Liberation Sans&quot;, sans-serif" font-size="8.6" fill="#111" stroke="#111" stroke-width="0.12">4:Espanyol</text>
<text transform="translate(567.5 137.62) scale(0.945 1)" font-family="&quot;Liberation Sans&quot;, sans-serif" font-size="8.6" fill="#111" stroke="#111" stroke-width="0.12">5:Mallorca</text>
<text transform="translate(567.5 148.15) scale(0.945 1)" font-family="&quot;Liberation Sans&quot;, sans-serif" font-size="8.6" fill="#111" stroke="#111" stroke-width="0.12">6:Xerez</text>
<text transform="translate(567.5 158.68) scale(0.945 1)" font-family="&quot;Liberation Sans&quot;, sans-serif" font-size="8.6" fill="#111" stroke="#111" stroke-width="0.12">7:Osasuna</text>
<text transform="translate(567.5 169.21) scale(0.945 1)" font-family="&quot;Liberation Sans&quot;, sans-serif" font-size="8.6" fill="#111" stroke="#111" stroke-width="0.12">8:Villarreal</text>
<text transform="translate(567.5 179.74) scale(0.945 1)" font-family="&quot;Liberation Sans&quot;, sans-serif" font-size="8.6" fill="#111" stroke="#111" stroke-width="0.12">9:Real Zaragoza</text>
<text transform="translate(567.5 190.27) scale(0.945 1)" font-family="&quot;Liberation Sans&quot;, sans-serif" font-size="8.6" fill="#111" stroke="#111" stroke-width="0.12">10:Tenerife</text>
<text transform="translate(567.5 200.80) scale(0.945 1)" font-family="&quot;Liberation Sans&quot;, sans-serif" font-size="8.6" fill="#111" stroke="#111" stroke-width="0.12">11:Valencia CF</text>
<text transform="translate(567.5 211.33) scale(0.945 1)" font-family="&quot;Liberation Sans&quot;, sans-serif" font-size="8.6" fill="#111" stroke="#111" stroke-width="0.12">12:Sevilla</text>
<text transform="translate(567.5 221.86) scale(0.945 1)" font-family="&quot;Liberation Sans&quot;, sans-serif" font-size="8.6" fill="#111" stroke="#111" stroke-width="0.12">13:Almería</text>
<text transform="translate(567.5 232.39) scale(0.945 1)" font-family="&quot;Liberation Sans&quot;, sans-serif" font-size="8.6" fill="#111" stroke="#111" stroke-width="0.12">14:Real Valladolid</text>
<circle cx="570.6" cy="240.02" r="4.6" fill="#2030d0"/><circle cx="570.6" cy="240.02" r="1.9" fill="#e0333a"/>
<text transform="translate(576.3 242.92) scale(0.945 1)" font-family="&quot;Liberation Sans&quot;, sans-serif" font-size="8.6" fill="#111" stroke="#111" stroke-width="0.12">:Barcelona</text>
<text transform="translate(567.5 253.45) scale(0.945 1)" font-family="&quot;Liberation Sans&quot;, sans-serif" font-size="8.6" fill="#111" stroke="#111" stroke-width="0.12">16:Sporting de Gijón</text>
<text transform="translate(567.5 263.98) scale(0.945 1)" font-family="&quot;Liberation Sans&quot;, sans-serif" font-size="8.6" fill="#111" stroke="#111" stroke-width="0.12">17:Racing de Santander</text>
<text transform="translate(567.5 274.51) scale(0.945 1)" font-family="&quot;Liberation Sans&quot;, sans-serif" font-size="8.6" fill="#111" stroke="#111" stroke-width="0.12">18:Getafe</text>
<text transform="translate(567.5 285.04) scale(0.945 1)" font-family="&quot;Liberation Sans&quot;, sans-serif" font-size="8.6" fill="#111" stroke="#111" stroke-width="0.12">19:Málaga</text>
<text transform="translate(567.5 295.57) scale(0.945 1)" font-family="&quot;Liberation Sans&quot;, sans-serif" font-size="8.6" fill="#111" stroke="#111" stroke-width="0.12">20:Atlético de Madrid</text>
</g>
</svg>
</body></html>
